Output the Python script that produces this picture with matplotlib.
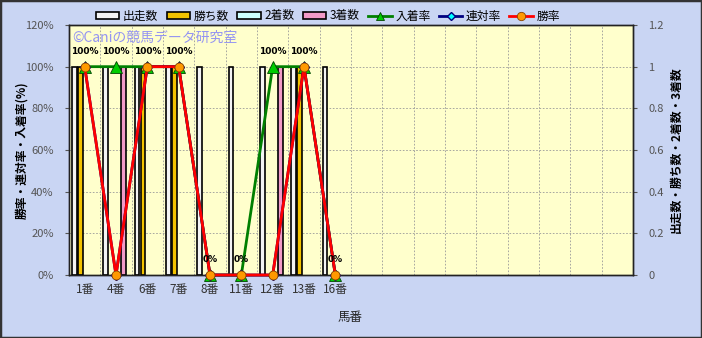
import matplotlib
matplotlib.use("Agg")
import matplotlib.pyplot as plt
from matplotlib.patches import Rectangle, Patch
from matplotlib.lines import Line2D
import numpy as np

plt.rcParams['font.family'] = ['Noto Sans CJK JP', 'DejaVu Sans']

categories = ["1番", "4番", "6番", "7番", "8番", "11番", "12番", "13番", "16番"]
n_slots = 18
starts = [1, 1, 1, 1, 1, 1, 1, 1, 1]      # 出走数
wins = [1, 0, 1, 1, 0, 0, 0, 1, 0]        # 勝ち数
seconds = [0, 0, 0, 0, 0, 0, 0, 0, 0]     # 2着数
thirds = [0, 1, 0, 0, 0, 0, 1, 0, 0]      # 3着数
place_rate = [100, 100, 100, 100, 0, 0, 100, 100, 0]   # 入着率
rentai_rate = [100, 0, 100, 100, 0, 0, 0, 100, 0]      # 連対率
win_rate = [100, 0, 100, 100, 0, 0, 0, 100, 0]         # 勝率

bg = '#C9D5F3'
fig = plt.figure(figsize=(7.02, 3.38), dpi=100, facecolor=bg)
ax2 = fig.add_axes([69/702, 63/338, 564/702, 250/338])
ax = ax2.twinx()
ax.yaxis.tick_left(); ax.yaxis.set_label_position('left')
ax2.yaxis.tick_right(); ax2.yaxis.set_label_position('right')
ax.set_zorder(ax2.get_zorder() + 1)
ax.patch.set_visible(False)
ax2.set_facecolor('#FFFFCC')

x = np.arange(len(categories))
w = 0.15
offs = [-0.33, -0.14, 0.05, 0.24]
cols = ['#F4F4F4', '#F2C200', '#CCFFFF', '#F29AC8']
names = ['出走数', '勝ち数', '2着数', '3着数']
for o, vals, c in zip(offs, [starts, wins, seconds, thirds], cols):
    bars = ax2.bar(x + o, vals, width=w, color=c, edgecolor='black', linewidth=1.2, zorder=3)
    for b in bars:
        if b.get_height() == 0:
            b.set_visible(False)

ax2.set_ylim(0, 1.2)
ax2.set_yticks(np.arange(0, 1.21, 0.2))
ax2.set_yticklabels(['0', '0.2', '0.4', '0.6', '0.8', '1', '1.2'])
ax2.set_xlim(-0.5, n_slots - 0.5)
ax2.set_xticks(x)
ax2.set_xticklabels(categories, fontsize=8.5, color='#333333')
ax2.set_xticks(np.arange(-0.5, n_slots, 1), minor=True)
ax2.tick_params(axis='x', which='both', length=0, pad=6)
ax2.grid(True, axis='y', which='major', linestyle=(0, (2, 2)), color='#999999', linewidth=0.6, zorder=0)
ax2.grid(True, axis='x', which='minor', linestyle=(0, (2, 2)), color='#999999', linewidth=0.6, zorder=0)
ax2.grid(False, axis='x', which='major')
ax2.set_axisbelow(True)
ax2.tick_params(axis='y', labelsize=8, colors='#555555', length=3, direction='out', pad=8)
ax2.set_ylabel('出走数・勝ち数・2着数・3着数', fontsize=8.5, fontweight='bold', rotation=90, labelpad=4)

ax.plot(x, place_rate, color='#008000', linewidth=2, marker='^', markersize=8,
        markerfacecolor='#00CC00', markeredgecolor='#004400', markeredgewidth=0.6, zorder=5, clip_on=False)
ax.plot(x, rentai_rate, color='#000080', linewidth=2, marker='D', markersize=5,
        markerfacecolor='#00FFFF', markeredgecolor='#000080', zorder=6, clip_on=False)
ax.plot(x, win_rate, color='#FF0000', linewidth=2, marker='o', markersize=6.5,
        markerfacecolor='#FF9900', markeredgecolor='#884400', markeredgewidth=0.6, zorder=7, clip_on=False)
for xi, v in zip(x, place_rate):
    ax.annotate(f'{v}%', (xi, v), xytext=(0, 8), textcoords='offset points',
                ha='center', va='bottom', fontsize=6.5, fontweight='bold', family='DejaVu Sans', zorder=8)

ax.set_ylim(0, 120)
ax.set_yticks(np.arange(0, 121, 20))
ax.set_yticklabels([f'{v}%' for v in range(0, 121, 20)])
ax.tick_params(axis='y', labelsize=8, colors='#555555', length=3, direction='out', pad=8)
ax.set_ylabel('勝率・連対率・入着率(%)', fontsize=8.5, fontweight='bold', rotation=90, labelpad=-2)

for a in (ax, ax2):
    for s in a.spines.values():
        s.set_color('#222222')
        s.set_linewidth(1)

ax.text(0.005, 0.95, '©Caniの競馬データ研究室', transform=ax.transAxes, fontsize=10,
        color='#9494F2', va='center', ha='left', zorder=4)

fig.text(350/702, 1 - 318/338, '馬番', ha='center', va='center', fontsize=9, color='#222222')

handles = [Patch(facecolor=c, edgecolor='black', linewidth=1.2) for c in cols]
handles += [
    Line2D([], [], color='#008000', linewidth=2, marker='^', markersize=6, markerfacecolor='#00CC00', markeredgecolor='#004400', markeredgewidth=0.6),
    Line2D([], [], color='#000080', linewidth=2, marker='D', markersize=4, markerfacecolor='#00FFFF', markeredgecolor='#000080'),
    Line2D([], [], color='#FF0000', linewidth=2, marker='o', markersize=6, markerfacecolor='#FF9900', markeredgecolor='#884400', markeredgewidth=0.6),
]
labels = names + ['入着率', '連対率', '勝率']
fig.legend(handles, labels, loc='center', bbox_to_anchor=(328/702, 1 - 16/338), ncol=7,
           frameon=False, fontsize=8.5, handlelength=2.0, handleheight=0.55, handletextpad=0.3,
           columnspacing=0.7)

fig.patches.append(Rectangle((0, 0), 1, 1, transform=fig.transFigure, fill=False,
                             edgecolor='#333333', linewidth=2.5))

fig.savefig('out.png', dpi=100, facecolor=bg)
